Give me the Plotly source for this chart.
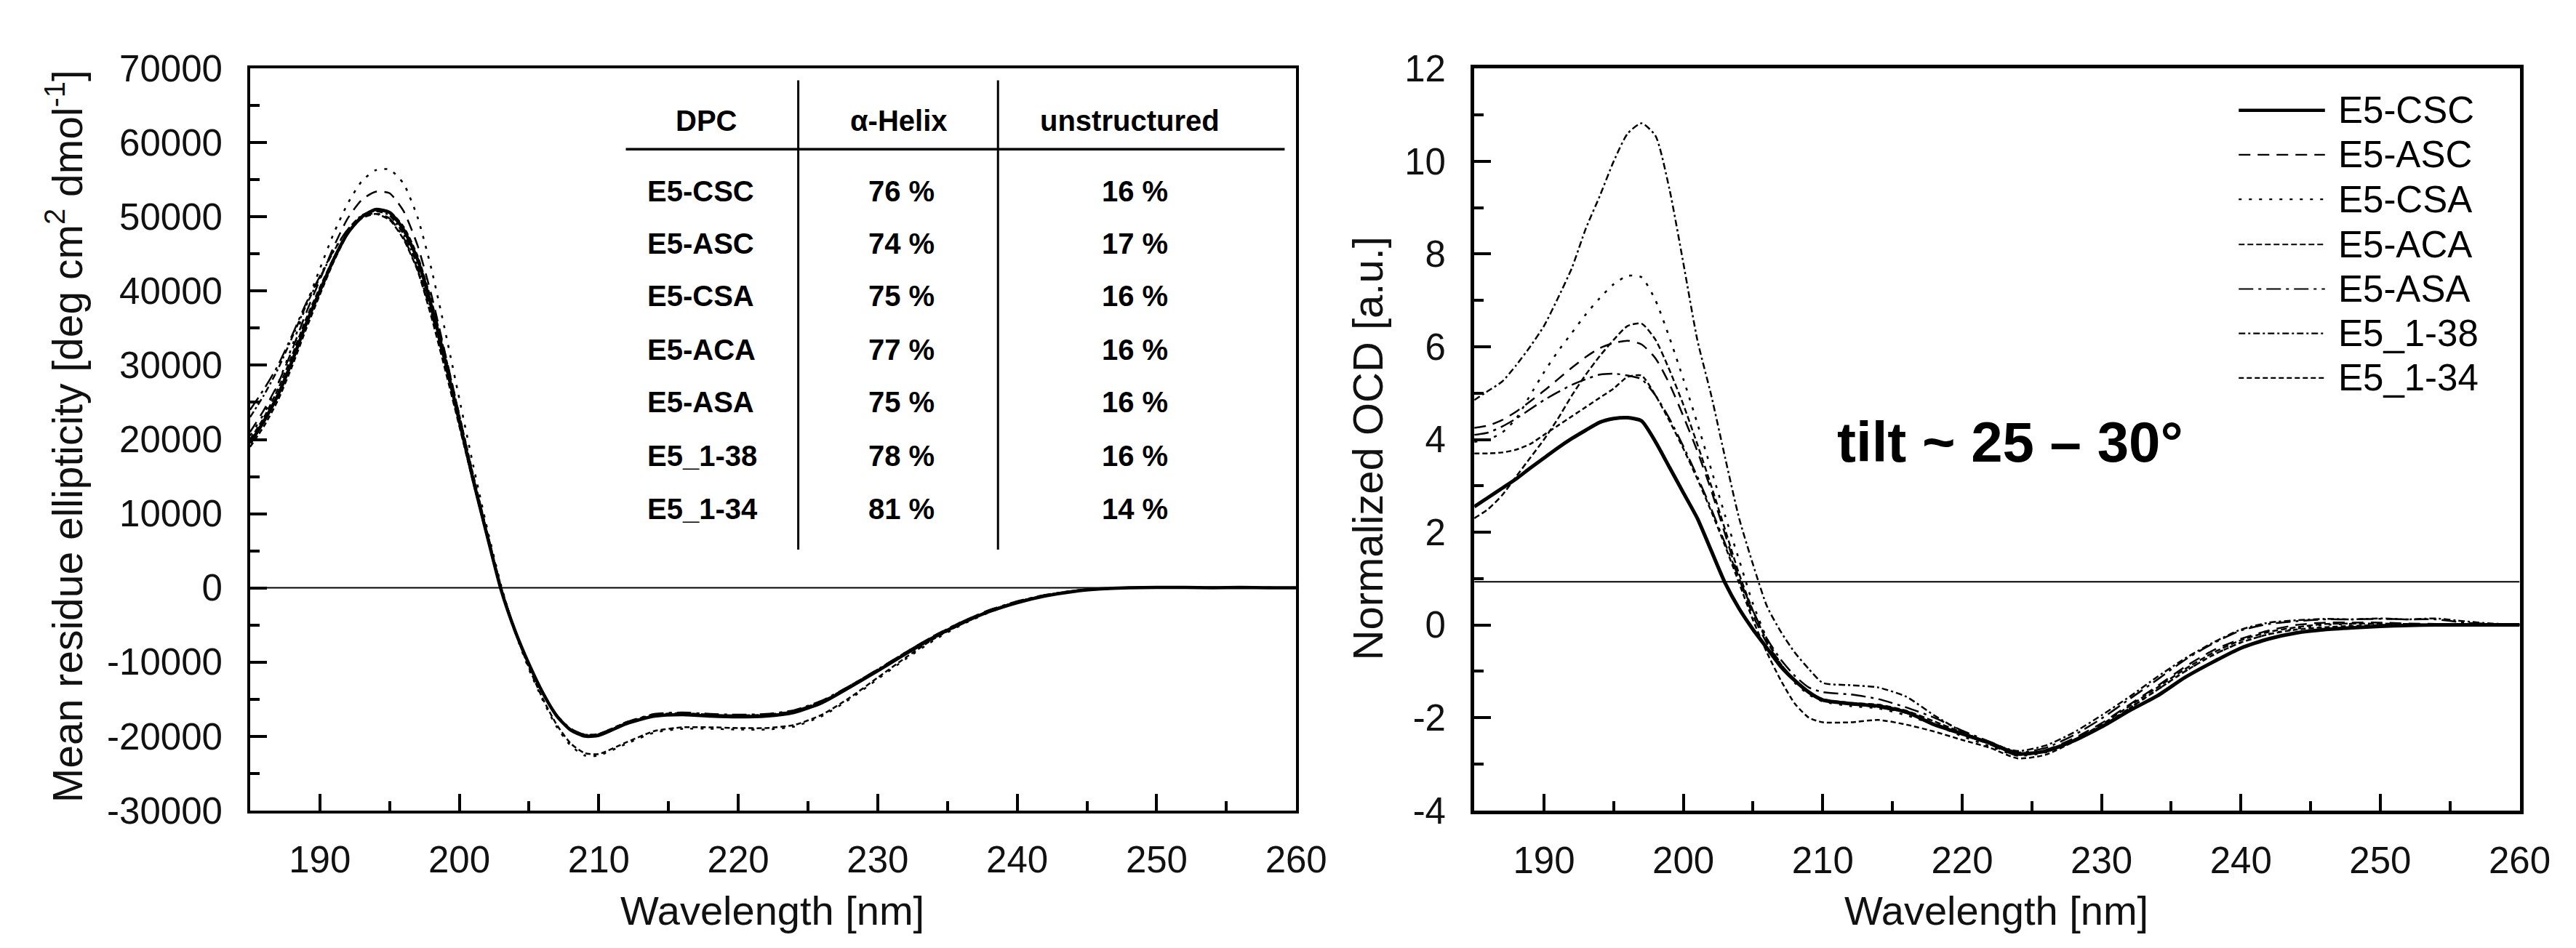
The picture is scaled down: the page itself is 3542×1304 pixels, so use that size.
import plotly.graph_objects as go

# ---------------- data ----------------
WAVELENGTH = [185, 186, 187, 188, 189, 190, 191, 192, 193, 194, 195, 196, 197, 198, 199,
              200, 201, 202, 203, 204, 205, 206, 207, 208, 209, 210,
              212, 214, 216, 218, 220, 222, 224, 226, 228, 230, 232, 234, 236, 238, 240,
              242, 244, 246, 248, 250, 252, 254, 256, 258, 260]

SERIES = ["E5-CSC", "E5-ASC", "E5-CSA", "E5-ACA", "E5-ASA", "E5_1-38", "E5_1-34"]

# Mean residue ellipticity [deg cm2 dmol-1] (left panel)
MRE_CSC = [19500, 22500, 26000, 30500, 35500, 40000, 44300, 47800, 50000, 51000, 50600, 48300, 44300, 38000, 30500,
           22500, 14500, 7000, -300, -5800, -10300, -14200, -17300, -19200, -20000, -19900,
           -18300, -17300, -17100, -17300, -17400, -17300, -16800, -15500, -13400, -11200, -8900, -6700, -4800, -3200, -2000,
           -1100, -500, -150, 0, 50, 50, 0, 50, 0, 0]
MRE_ASC = [21000, 24000, 27500, 32000, 37000, 41500, 46000, 49800, 52300, 53400, 53200, 50800, 46200, 39500, 31500,
           23300, 15000, 7300, 0, -5700, -10200, -14100, -17200, -19100, -19900, -19800,
           -18200, -17200, -17000, -17200, -17300, -17200, -16600, -15300, -13200, -11000, -8700, -6500, -4600, -3000, -1900,
           -1000, -400, -100, 50, 100, 50, 50, 0, 50, 0]
MRE_CSA = [20500, 23500, 27500, 32500, 38000, 43000, 47800, 51800, 54800, 56300, 56400, 54500, 50000, 43000, 34500,
           25500, 16500, 8000, 300, -6000, -11000, -15200, -18800, -21300, -22600, -22600,
           -21000, -19500, -19000, -19000, -19100, -19100, -18700, -17300, -15000, -12300, -9600, -7100, -5000, -3300, -2000,
           -1100, -500, -150, 0, 0, 50, 0, 0, 0, 0]
MRE_ACA = [20000, 23000, 26800, 31300, 36200, 40500, 44500, 47800, 49800, 50400, 49600, 47000, 42800, 36500, 29300,
           21800, 14200, 6800, -400, -6000, -10500, -14300, -17300, -19100, -19800, -19700,
           -18100, -17100, -16900, -17100, -17200, -17100, -16600, -15300, -13300, -11100, -8800, -6600, -4700, -3100, -1900,
           -1000, -450, -100, 0, 50, 0, 50, 0, 0, 0]
MRE_ASA = [24000, 26800, 30000, 34000, 38300, 42000, 45500, 48300, 50000, 50500, 49800, 47200, 43000, 37000, 30000,
           22300, 14500, 7000, -200, -5800, -10300, -14200, -17200, -19000, -19800, -19700,
           -18100, -17000, -16800, -17000, -17100, -17000, -16500, -15200, -13200, -11000, -8700, -6500, -4600, -3000, -1800,
           -950, -400, -100, 50, 50, 0, 0, 50, 0, 0]
MRE_138 = [23000, 26000, 29500, 33700, 38000, 41800, 45400, 48300, 50200, 50800, 50200, 47700, 43500, 37300, 30000,
           22300, 14400, 6900, -300, -5900, -10400, -14300, -17300, -19100, -19900, -19800,
           -18200, -17200, -17000, -17200, -17300, -17200, -16700, -15400, -13300, -11100, -8800, -6600, -4700, -3100, -1900,
           -1000, -450, -100, 0, 50, 50, 0, 0, 50, 0]
MRE_134 = [19000, 21800, 25300, 29800, 34800, 39500, 44000, 47700, 50000, 51000, 50700, 48700, 44800, 38700, 31300,
           23300, 15200, 7500, 100, -5800, -10800, -15000, -18500, -21000, -22300, -22400,
           -20800, -19300, -18800, -18800, -18900, -18900, -18500, -17100, -14800, -12100, -9400, -6900, -4900, -3200, -2000,
           -1100, -500, -150, 0, 0, 0, 50, 0, 0, 0]

# Normalized OCD [a.u.] (right panel)
OCD_CSC = [2.55, 2.75, 2.95, 3.15, 3.38, 3.6, 3.82, 4.02, 4.2, 4.37, 4.45, 4.47, 4.4, 3.95, 3.4,
           2.85, 2.3, 1.6, 0.9, 0.35, -0.1, -0.5, -0.9, -1.2, -1.45, -1.62,
           -1.7, -1.75, -1.88, -2.15, -2.35, -2.55, -2.78, -2.72, -2.5, -2.2, -1.85, -1.53, -1.13, -0.8, -0.5,
           -0.3, -0.17, -0.1, -0.06, -0.03, -0.01, 0.0, 0.0, 0.0, 0.0]
OCD_ASC = [4.25, 4.3, 4.42, 4.6, 4.82, 5.05, 5.3, 5.55, 5.78, 5.97, 6.08, 6.13, 6.05, 5.75, 5.2,
           4.5, 3.75, 2.9, 1.95, 1.0, 0.2, -0.4, -0.85, -1.2, -1.45, -1.62,
           -1.7, -1.78, -1.9, -2.12, -2.35, -2.58, -2.82, -2.7, -2.45, -2.12, -1.72, -1.32, -0.9, -0.55, -0.3,
           -0.12, 0.0, 0.05, 0.05, 0.05, 0.03, 0.02, 0.0, 0.0, 0.0]
OCD_CSA = [3.95, 4.0, 4.15, 4.45, 4.95, 5.45, 5.9, 6.3, 6.7, 7.05, 7.35, 7.53, 7.5, 7.0, 6.2,
           5.3, 4.35, 3.35, 2.35, 1.4, 0.45, -0.3, -0.85, -1.25, -1.5, -1.65,
           -1.75, -1.8, -1.95, -2.15, -2.4, -2.62, -2.82, -2.75, -2.5, -2.18, -1.8, -1.4, -1.0, -0.65, -0.38,
           -0.2, -0.08, 0.0, 0.02, 0.02, 0.0, 0.0, 0.0, 0.0, 0.0]
OCD_ACA = [2.3, 2.5, 2.8, 3.2, 3.6, 4.0, 4.45, 4.95, 5.4, 5.8, 6.15, 6.45, 6.5, 6.15, 5.5,
           4.75, 3.9, 3.0, 2.05, 1.1, 0.3, -0.35, -0.85, -1.2, -1.45, -1.6,
           -1.68, -1.72, -1.85, -2.08, -2.32, -2.55, -2.8, -2.72, -2.48, -2.15, -1.75, -1.35, -0.95, -0.6, -0.33,
           -0.15, -0.05, 0.02, 0.03, 0.03, 0.02, 0.0, 0.0, 0.0, 0.0]
OCD_ASA = [4.1, 4.15, 4.28, 4.45, 4.65, 4.85, 5.02, 5.18, 5.3, 5.4, 5.42, 5.38, 5.3, 4.95, 4.45,
           3.85, 3.2, 2.5, 1.75, 1.0, 0.3, -0.3, -0.75, -1.1, -1.35, -1.45,
           -1.5, -1.6, -1.78, -2.0, -2.28, -2.52, -2.75, -2.65, -2.38, -2.02, -1.6, -1.18, -0.75, -0.4, -0.12,
           0.02, 0.08, 0.12, 0.12, 0.13, 0.12, 0.12, 0.05, 0.02, 0.0]
OCD_138 = [4.85, 5.05, 5.25, 5.6, 6.0, 6.45, 7.05, 7.7, 8.55, 9.25, 10.0, 10.6, 10.82, 10.55, 9.4,
           7.8, 6.15, 4.95, 3.6, 2.3, 1.3, 0.4, -0.15, -0.6, -0.95, -1.25,
           -1.3, -1.35, -1.55, -1.95, -2.3, -2.55, -2.72, -2.6, -2.32, -1.95, -1.55, -1.12, -0.72, -0.38, -0.1,
           0.05, 0.1, 0.13, 0.12, 0.14, 0.12, 0.14, 0.08, 0.03, 0.01]
OCD_134 = [3.7, 3.7, 3.72, 3.78, 3.9, 4.1, 4.3, 4.5, 4.7, 4.9, 5.1, 5.35, 5.38, 4.95, 4.4,
           3.8, 3.15, 2.45, 1.7, 0.9, 0.1, -0.6, -1.2, -1.7, -2.0, -2.1,
           -2.1, -2.05, -2.15, -2.3, -2.48, -2.65, -2.88, -2.8, -2.52, -2.2, -1.8, -1.4, -1.0, -0.65, -0.38,
           -0.2, -0.1, -0.05, -0.02, 0.0, 0.0, 0.0, 0.0, 0.0, 0.0]

MRE = [MRE_CSC, MRE_ASC, MRE_CSA, MRE_ACA, MRE_ASA, MRE_138, MRE_134]
OCD = [OCD_CSC, OCD_ASC, OCD_CSA, OCD_ACA, OCD_ASA, OCD_138, OCD_134]

# tick labels
X_TICKS = [190, 200, 210, 220, 230, 240, 250, 260]
X_TICK_TEXT = ["190", "200", "210", "220", "230", "240", "250", "260"]
MRE_TICKS = [70000, 60000, 50000, 40000, 30000, 20000, 10000, 0, -10000, -20000, -30000]
MRE_TICK_TEXT = ["70000", "60000", "50000", "40000", "30000", "20000", "10000", "0",
                 "-10000", "-20000", "-30000"]
OCD_TICKS = [12, 10, 8, 6, 4, 2, 0, -2, -4]
OCD_TICK_TEXT = ["12", "10", "8", "6", "4", "2", "0", "-2", "-4"]

TABLE_HEADER = ["DPC", "α-Helix", "unstructured"]
HELIX_PCT = [76, 74, 75, 77, 75, 78, 81]
UNSTRUCTURED_PCT = [16, 17, 16, 16, 16, 16, 14]

LEFT_BASELINE = 0
RIGHT_BASELINE = 0.93
TILT_TEXT = "tilt ~ 25 – 30°"

# ---------------- styles ----------------
W, H = 3542, 1304
DASHES = ["solid", "16px,10px", "4px,10px", "8px,4px", "20px,7px,4px,7px", "9px,4px,3px,4px", "7px,4px"]
WIDTHS = [5, 2.5, 2.6, 2.5, 2.5, 2.5, 2.5]
FONT = "Liberation Sans, Arial, sans-serif"


def px(x):
    return x / W


def py(y):
    return 1 - y / H


fig = go.Figure()
order = [1, 2, 3, 4, 5, 6, 0]
for i in order:
    fig.add_trace(go.Scatter(x=WAVELENGTH, y=MRE[i], mode="lines", name=SERIES[i], showlegend=False,
                             line=dict(color="black", width=WIDTHS[i] if i else 4.5, dash=DASHES[i], shape="spline",
                                       smoothing=0.6),
                             xaxis="x", yaxis="y"))
    fig.add_trace(go.Scatter(x=WAVELENGTH, y=OCD[i], mode="lines", name=SERIES[i], showlegend=False,
                             line=dict(color="black", width=WIDTHS[i], dash=DASHES[i], shape="spline",
                                       smoothing=0.6),
                             xaxis="x2", yaxis="y2"))

ydom = [py(1128), py(61)]
tickfont = dict(family=FONT, size=51, color="#111")
common_x = dict(range=[185, 260], tickmode="array", tickvals=X_TICKS, ticktext=X_TICK_TEXT,
                ticks="inside", ticklen=23, tickwidth=4,
                minor=dict(dtick=5, tick0=0, ticks="inside", ticklen=13, tickwidth=4, tickcolor="black"),
                showline=True, mirror=True, linecolor="black", showgrid=False, zeroline=False,
                tickcolor="black", tickfont=tickfont, ticklabelstandoff=20)
common_y = dict(domain=ydom, ticks="inside", ticklen=23, tickwidth=4, tickmode="array",
                showline=True, mirror=True, linecolor="black", showgrid=False, zeroline=False,
                tickcolor="black", tickfont=tickfont, ticklabelstandoff=24)

fig.update_layout(
    width=W, height=H, margin=dict(l=0, r=0, t=0, b=0),
    paper_bgcolor="white", plot_bgcolor="white",
    xaxis=dict(domain=[px(340), px(1796)], anchor="y", linewidth=3.5, **common_x),
    xaxis2=dict(domain=[px(2044), px(3499)], anchor="y2", linewidth=5, **common_x),
    yaxis=dict(anchor="x", range=[-30000, 70000], tickvals=MRE_TICKS, ticktext=MRE_TICK_TEXT,
               minor=dict(dtick=5000, tick0=0, ticks="inside", ticklen=13, tickwidth=4, tickcolor="black"),
               linewidth=3.5, **common_y),
    yaxis2=dict(anchor="x2", range=[-4, 12], tickvals=OCD_TICKS, ticktext=OCD_TICK_TEXT,
                minor=dict(dtick=1, tick0=0, ticks="inside", ticklen=13, tickwidth=4, tickcolor="black"),
                linewidth=5, **common_y),
)

shapes = []
annotations = []

# baselines
shapes.append(dict(type="line", xref="x", yref="y", x0=185, x1=260, y0=LEFT_BASELINE, y1=LEFT_BASELINE,
                   line=dict(color="black", width=2)))
shapes.append(dict(type="line", xref="x2", yref="y2", x0=185, x1=260, y0=RIGHT_BASELINE, y1=RIGHT_BASELINE,
                   line=dict(color="black", width=2)))

# axis titles
title_font = dict(family=FONT, size=56, color="#111")
annotations.append(dict(text="Wavelength [nm]", x=px(1067), y=py(1272), xref="paper", yref="paper",
                        showarrow=False, font=title_font, xanchor="center", yanchor="middle"))
annotations.append(dict(text="Wavelength [nm]", x=px(2771), y=py(1272), xref="paper", yref="paper",
                        showarrow=False, font=title_font, xanchor="center", yanchor="middle"))
annotations.append(dict(text="Mean residue ellipticity [deg cm<sup>2</sup> dmol<sup>-1</sup>]", x=px(82), y=py(590),
                        xref="paper", yref="paper", showarrow=False, textangle=-90,
                        font=dict(family=FONT, size=57, color="#111"), xanchor="center", yanchor="middle"))
annotations.append(dict(text="Normalized OCD [a.u.]", x=px(1895), y=py(607), xref="paper", yref="paper",
                        showarrow=False, textangle=-90, font=dict(family=FONT, size=58, color="#111"),
                        xanchor="center", yanchor="middle"))

# tilt annotation
annotations.append(dict(text="<b>" + TILT_TEXT + "</b>", x=px(2790), y=py(598), xref="paper", yref="paper",
                        showarrow=False, font=dict(family=FONT, size=78, color="black"),
                        xanchor="center", yanchor="middle"))

# table (left panel)
tfont = dict(family=FONT, size=40, color="black")
header_x = [975, 1243, 1564]
for name, hx in zip(TABLE_HEADER, header_x):
    annotations.append(dict(text="<b>" + name + "</b>", x=px(hx), y=py(136), xref="paper", yref="paper",
                            showarrow=False, font=tfont, xanchor="center", yanchor="middle"))
row_y = [237, 313, 388, 465, 541, 618, 694]
for name, hel, uns, ry in zip(SERIES, HELIX_PCT, UNSTRUCTURED_PCT, row_y):
    annotations.append(dict(text="<b>" + name + "</b>", x=px(891), y=py(ry), xref="paper", yref="paper",
                            showarrow=False, font=tfont, xanchor="left", yanchor="middle"))
    annotations.append(dict(text="<b>%d %%</b>" % hel, x=px(1247), y=py(ry), xref="paper", yref="paper",
                            showarrow=False, font=tfont, xanchor="center", yanchor="middle"))
    annotations.append(dict(text="<b>%d %%</b>" % uns, x=px(1572), y=py(ry), xref="paper", yref="paper",
                            showarrow=False, font=tfont, xanchor="center", yanchor="middle"))
shapes.append(dict(type="line", xref="paper", yref="paper", x0=px(863), x1=px(1780), y0=py(177), y1=py(177),
                   line=dict(color="black", width=3.5)))
for vx in [1103, 1381]:
    shapes.append(dict(type="line", xref="paper", yref="paper", x0=px(vx), x1=px(vx), y0=py(78), y1=py(753),
                       line=dict(color="black", width=3)))

# legend (right panel)
leg_y = [121, 185, 249, 314, 378, 442, 506]
for i, ly in enumerate(leg_y):
    shapes.append(dict(type="line", xref="paper", yref="paper", x0=px(3108), x1=px(3228), y0=py(ly), y1=py(ly),
                       line=dict(color="black", width=4.5 if i == 0 else 2.2, dash=DASHES[i])))
    annotations.append(dict(text=SERIES[i], x=px(3244), y=py(ly), xref="paper", yref="paper", showarrow=False,
                            font=dict(family=FONT, size=51, color="black"), xanchor="left", yanchor="middle"))

fig.update_layout(shapes=shapes, annotations=annotations)
fig.write_html("out.html")
